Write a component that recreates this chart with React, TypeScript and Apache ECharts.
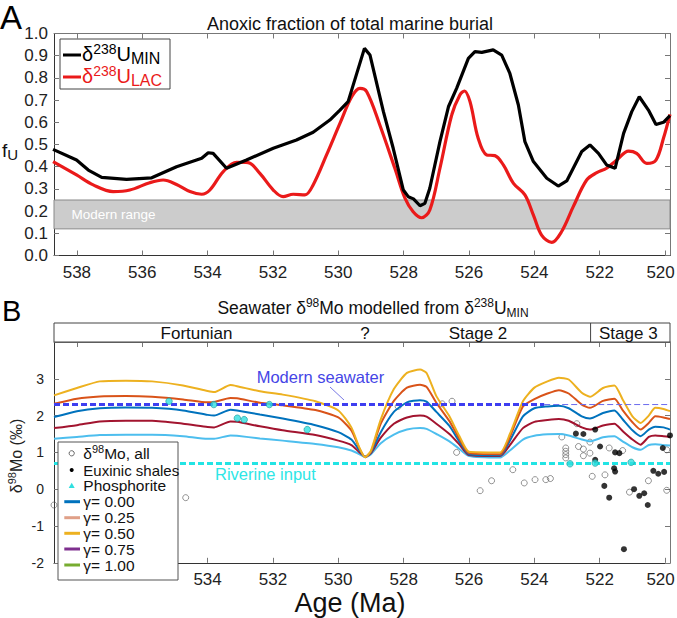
import React, { useEffect, useRef } from 'react';
import * as echarts from 'echarts';

const FONT = '"Liberation Sans", Arial, Helvetica, sans-serif';

const AGE_MIN = 519.85;
const AGE_MAX = 538.7;
const AGE_TICKS = [520, 522, 524, 526, 528, 530, 532, 534, 536, 538];
// in panel B the legend box hides the two oldest tick labels
const AGE_LABELS_B = [520, 522, 524, 526, 528, 530, 532, 534];

// Panel A: anoxic fraction f_U
const fU_MIN: [number, number][] = [
  [538.73, 0.478], [538.01, 0.43], [537.65, 0.385], [537.24, 0.352], [536.48, 0.343], [535.71, 0.35],
  [534.95, 0.40], [534.18, 0.438], [533.98, 0.463], [533.83, 0.46], [533.42, 0.393], [532.81, 0.43],
  [531.99, 0.483], [531.28, 0.52], [530.77, 0.555], [530.26, 0.61], [529.95, 0.655], [529.70, 0.693],
  [529.2, 0.933], [529.03, 0.903], [528.62, 0.648], [528.32, 0.483], [528.01, 0.295], [527.86, 0.265],
  [527.7, 0.255], [527.5, 0.224], [527.35, 0.235], [527.2, 0.303], [526.89, 0.513], [526.63, 0.67],
  [526.38, 0.753], [526.02, 0.888], [525.82, 0.918], [525.61, 0.915], [525.26, 0.926], [525.0, 0.903],
  [524.75, 0.82], [524.49, 0.678], [524.29, 0.513], [524.03, 0.423], [523.62, 0.348], [523.27, 0.313],
  [523.01, 0.336], [522.55, 0.468], [522.3, 0.498], [522.04, 0.46], [521.79, 0.408], [521.53, 0.393],
  [521.27, 0.55], [521.02, 0.648], [520.79, 0.715], [520.51, 0.655], [520.28, 0.59], [520.05, 0.60],
  [519.85, 0.63],
];
const fU_LAC: [number, number][] = [
  [538.73, 0.423], [538.01, 0.363], [537.5, 0.318], [536.89, 0.288], [536.38, 0.295], [535.77, 0.328],
  [535.36, 0.34], [534.95, 0.32], [534.54, 0.288], [534.18, 0.276], [533.93, 0.295], [533.52, 0.378],
  [533.11, 0.42], [532.76, 0.418], [532.4, 0.37], [531.99, 0.295], [531.69, 0.265], [531.38, 0.276],
  [531.02, 0.273], [530.77, 0.318], [530.36, 0.453], [529.95, 0.595], [529.59, 0.715], [529.34, 0.753],
  [529.13, 0.738], [528.73, 0.588], [528.27, 0.393], [527.96, 0.258], [527.71, 0.197], [527.45, 0.17],
  [527.2, 0.205], [526.89, 0.393], [526.53, 0.633], [526.28, 0.723], [526.14, 0.741], [525.97, 0.693],
  [525.72, 0.528], [525.46, 0.453], [525.21, 0.45], [524.95, 0.408], [524.64, 0.325], [524.29, 0.273],
  [524.03, 0.182], [523.78, 0.092], [523.47, 0.059], [523.17, 0.107], [522.81, 0.22], [522.4, 0.34],
  [522.09, 0.373], [521.79, 0.393], [521.48, 0.43], [521.12, 0.47], [520.87, 0.46], [520.56, 0.415],
  [520.28, 0.43], [520.05, 0.528], [519.85, 0.636],
];
const MODERN_RANGE = [0.12, 0.25];

// Panel B: modelled seawater d98Mo
const MO_AGES = [
  538.7, 538.0, 537.3, 536.5, 535.7, 534.75, 534.0, 533.8, 533.3, 533.1, 532.4, 531.7, 530.7, 530.0,
  529.6, 529.35, 529.18, 529.0, 528.7, 528.3, 527.9, 527.5, 527.3, 527.0, 526.6, 526.3, 526.0, 525.05,
  524.75, 524.35, 524.0, 523.6, 523.25, 522.95, 522.55, 522.3, 521.9, 521.55, 521.3, 521.0, 520.75,
  520.5, 520.3, 520.05, 519.85,
];
const MO_CURVE_1 = [
  2.55, 2.75, 2.93, 2.95, 2.93, 2.82, 2.67, 2.64, 2.83, 2.80, 2.66, 2.57, 2.39, 2.14,
  1.68, 1.12, 0.87, 1.05, 1.9, 2.72, 3.16, 3.25, 3.16, 2.53, 1.98, 1.45, 1.02, 1.0,
  1.5, 2.39, 2.76, 2.93, 3.03, 2.98, 2.62, 2.51, 2.75, 2.82, 2.44, 1.98, 1.8,
  2.0, 2.21, 2.18, 2.12,
];
const MO_CURVE_2 = [
  2.32, 2.46, 2.52, 2.53, 2.51, 2.44, 2.36, 2.37, 2.48, 2.47, 2.35, 2.28, 2.15, 1.95,
  1.6, 1.1, 0.87, 1.02, 1.78, 2.4, 2.76, 2.84, 2.78, 2.35, 1.85, 1.38, 0.98, 0.95,
  1.42, 2.25, 2.45, 2.6, 2.69, 2.6, 2.3, 2.21, 2.4, 2.46, 2.15, 1.82, 1.62,
  1.8, 1.98, 1.95, 1.91,
];
const MO_CURVE_3 = [
  1.96, 2.12, 2.2, 2.22, 2.21, 2.14, 2.02, 2.0, 2.16, 2.14, 2.03, 1.92, 1.74, 1.55,
  1.35, 1.05, 0.88, 1.0, 1.55, 2.1, 2.36, 2.42, 2.38, 2.1, 1.72, 1.3, 0.95, 0.92,
  1.32, 1.98, 2.2, 2.25, 2.27, 2.2, 1.98, 1.92, 2.07, 2.14, 1.9, 1.6, 1.44,
  1.62, 1.7, 1.68, 1.62,
];
const MO_CURVE_4 = [
  1.66, 1.74, 1.84, 1.86, 1.86, 1.78, 1.69, 1.68, 1.84, 1.83, 1.71, 1.6, 1.47, 1.32,
  1.2, 1.0, 0.88, 0.98, 1.4, 1.78, 1.95, 2.0, 1.97, 1.78, 1.5, 1.22, 0.93, 0.9,
  1.2, 1.66, 1.83, 1.88, 1.91, 1.86, 1.68, 1.62, 1.73, 1.78, 1.58, 1.35, 1.21,
  1.42, 1.46, 1.44, 1.42,
];
const MO_CURVE_5 = [
  1.37, 1.42, 1.47, 1.48, 1.48, 1.44, 1.37, 1.37, 1.46, 1.45, 1.38, 1.32, 1.23, 1.14,
  1.05, 0.95, 0.87, 0.95, 1.25, 1.48, 1.62, 1.66, 1.64, 1.5, 1.3, 1.1, 0.9, 0.86,
  1.05, 1.35, 1.45, 1.49, 1.5, 1.46, 1.35, 1.3, 1.41, 1.44, 1.3, 1.14, 1.07,
  1.2, 1.22, 1.2, 1.19,
];
const MO_SEAWATER = 2.3;
const SEAWATER_THICK_END = 523.7;
const MO_RIVERINE = 0.7;

const MO_ALL: [number, number][] = [
  [538.7, -0.43], [534.67, -0.23], [528.17, 2.25], [526.82, 2.32], [526.52, 2.39], [526.38, 1.0],
  [525.66, -0.04], [525.31, 0.23], [524.66, 0.53], [524.31, 0.17], [523.98, 0.26], [523.65, 0.26],
  [523.51, 0.29], [523.16, 1.42], [523.04, 1.12], [523.04, 1.03], [523.04, 0.94], [523.04, 0.85],
  [522.7, 1.78], [522.65, 1.16], [522.5, 1.09], [522.5, 0.91], [522.3, 1.28], [522.3, 0.98],
  [522.23, 0.35], [521.84, 0.39], [521.71, 1.12], [521.3, 1.05], [521.09, -0.08], [520.51, 0.23],
  [519.95, -0.03], [519.95, 1.07],
];
const MO_EUXINIC: [number, number][] = [
  [522.73, 1.51], [522.5, 1.5], [522.14, 1.62], [521.99, 1.16], [522.14, 0.8], [521.53, 1.0],
  [521.4, 0.98], [521.56, 0.57], [521.53, 0.48], [521.86, 0.09], [521.71, -0.23], [520.95, 0.0],
  [520.79, -0.18], [520.64, -0.11], [520.53, -0.43], [520.36, 0.5], [520.21, 0.42], [520.03, 0.47],
  [520.07, 1.12], [519.85, 1.46], [521.26, -1.63],
];
const MO_PHOS: [number, number][] = [
  [535.18, 2.39], [533.81, 2.3], [533.09, 1.93], [532.88, 1.89], [532.11, 2.3], [530.95, 1.62],
  [522.91, 0.69], [522.14, 0.71], [521.04, 0.73],
];
const STAGE3_START = 522.28;

const CURVE_COLORS = ['#EDB120', '#D95319', '#0072BD', '#A2142F', '#4DBEEE'];
const LEGEND_GAMMA = ['γ= 0.00', 'γ= 0.25', 'γ= 0.50', 'γ= 0.75', 'γ= 1.00'];
const LEGEND_GAMMA_COLORS = ['#0072BD', '#E0A088', '#EDB120', '#7E2F8E', '#77AC30'];

const pair = (vals: number[]) => MO_AGES.map((a, i) => [a, vals[i]]);

const ageLabelFmt = (v: number) => (Math.abs(v - 520) < 1e-6 ? '{r|' + v + '}' : String(v));

function xAxisDef(gridIndex: number, position: 'top' | 'bottom', labelValues: number[] | null) {
  const labels = !!labelValues;
  return {
    type: 'value',
    gridIndex,
    position,
    min: AGE_MIN,
    max: AGE_MAX,
    inverse: true,
    axisLine: { show: true, onZero: false, lineStyle: { color: labels ? '#333' : '#777', width: 1 } },
    axisTick: { show: true, inside: true, length: 5, customValues: AGE_TICKS, lineStyle: { color: '#777' } },
    axisLabel: {
      show: labels,
      customValues: labelValues || AGE_TICKS,
      fontSize: 17,
      fontFamily: FONT,
      color: '#222',
      margin: 8,
      formatter: ageLabelFmt,
      rich: { r: { fontSize: 17, fontFamily: FONT, color: '#222', padding: [0, 9, 0, 0] } },
    },
    splitLine: { show: false },
  };
}

function yAxisDef(gridIndex: number, position: 'left' | 'right', min: number, max: number, interval: number, labels: boolean, fmt?: (v: number) => string, fontSize = 17, margin = 6) {
  return {
    type: 'value',
    gridIndex,
    position,
    min,
    max,
    interval,
    axisLine: { show: true, onZero: false, lineStyle: { color: labels ? '#333' : '#777', width: 1 } },
    axisTick: { show: true, inside: true, length: 5, lineStyle: { color: '#777' } },
    axisLabel: { show: labels, fontSize, fontFamily: FONT, color: '#222', margin, formatter: fmt },
    splitLine: { show: false },
  };
}

export default function App() {
  const ref = useRef<HTMLDivElement>(null);
  useEffect(() => {
    if (!ref.current) return;
    const chart = echarts.init(ref.current, undefined, { renderer: 'svg' });

    const curveSeries = [MO_CURVE_5, MO_CURVE_4, MO_CURVE_3, MO_CURVE_2, MO_CURVE_1].map((vals, k) => ({
      type: 'line',
      xAxisIndex: 2,
      yAxisIndex: 2,
      data: pair(vals),
      symbol: 'none',
      smooth: 0.2,
      z: 3,
      lineStyle: { color: CURVE_COLORS[4 - k], width: 2 },
    }));

    const option: any = {
      animation: false,
      backgroundColor: '#fff',
      grid: [
        { left: 54, top: 33.5, width: 616, height: 222, outerBoundsMode: 'none', containLabel: false },
        { left: 54, top: 342, width: 616, height: 220.8, outerBoundsMode: 'none', containLabel: false },
      ],
      xAxis: [
        xAxisDef(0, 'bottom', AGE_TICKS),
        xAxisDef(0, 'top', null),
        xAxisDef(1, 'bottom', AGE_LABELS_B),
        xAxisDef(1, 'top', null),
      ],
      yAxis: [
        yAxisDef(0, 'left', 0, 1, 0.1, true, (v: number) => v.toFixed(1), 17, 6),
        yAxisDef(0, 'right', 0, 1, 0.1, false),
        yAxisDef(1, 'left', -2, 4, 1, true, (v: number) => (Math.abs(v - 4) < 1e-6 ? '' : String(Math.round(v))), 14, 10),
        yAxisDef(1, 'right', -2, 4, 1, false),
      ],
      series: [
        {
          type: 'line',
          xAxisIndex: 0,
          yAxisIndex: 0,
          data: [[AGE_MAX, MODERN_RANGE[0]]],
          symbol: 'none',
          lineStyle: { opacity: 0 },
          z: 1,
          markArea: {
            silent: true,
            itemStyle: { color: '#cccccc', borderColor: '#888', borderWidth: 1 },
            label: { show: true, position: 'insideLeft', distance: 18, color: '#fff', fontSize: 13.5, fontFamily: FONT },
            data: [[{ name: 'Modern range', yAxis: MODERN_RANGE[0] }, { yAxis: MODERN_RANGE[1] }]],
          },
        },
        {
          type: 'line', xAxisIndex: 0, yAxisIndex: 0, data: fU_LAC, symbol: 'none', smooth: 0.35, z: 3,
          lineStyle: { color: '#ea1a1a', width: 3.2 },
        },
        {
          type: 'line', xAxisIndex: 0, yAxisIndex: 0, data: fU_MIN, symbol: 'none', smooth: false, z: 4,
          lineStyle: { color: '#000', width: 3.2 },
        },
        {
          type: 'scatter', xAxisIndex: 2, yAxisIndex: 2, data: MO_ALL, symbol: 'circle', symbolSize: 6, z: 2,
          itemStyle: { color: 'rgba(255,255,255,0)', borderColor: '#555', borderWidth: 0.8 },
        },
        ...curveSeries,
        {
          type: 'line', xAxisIndex: 2, yAxisIndex: 2, data: [[AGE_MAX, MO_RIVERINE], [AGE_MIN, MO_RIVERINE]],
          symbol: 'none', z: 4, lineStyle: { color: '#22e4e4', width: 3, type: [6, 3] },
        },
        {
          type: 'line', xAxisIndex: 2, yAxisIndex: 2, data: [[AGE_MAX, MO_SEAWATER], [SEAWATER_THICK_END, MO_SEAWATER]],
          symbol: 'none', z: 4, lineStyle: { color: '#3e3ef0', width: 3, type: [6, 3] },
        },
        {
          type: 'line', xAxisIndex: 2, yAxisIndex: 2, data: [[SEAWATER_THICK_END, MO_SEAWATER], [AGE_MIN, MO_SEAWATER]],
          symbol: 'none', z: 4, lineStyle: { color: '#6a6aee', width: 1, type: [6, 3] },
        },
        {
          type: 'scatter', xAxisIndex: 2, yAxisIndex: 2, data: MO_EUXINIC, symbol: 'circle', symbolSize: 6, z: 5,
          itemStyle: { color: '#000' },
        },
        {
          type: 'scatter', xAxisIndex: 2, yAxisIndex: 2, data: MO_PHOS, symbol: 'circle', symbolSize: 6.5, z: 5,
          itemStyle: { color: '#2fe0e0', borderColor: '#199999', borderWidth: 0.8 },
        },
      ],
    };
    chart.setOption(option);

    const stageX = chart.convertToPixel({ xAxisIndex: 2 } as any, STAGE3_START) as unknown as number;

    const txt = (x: number, y: number, text: string, size: number, fill = '#111', align = 'center', extra: any = {}) => ({
      type: 'text', x, y, z: 100,
      style: { text, fontSize: size, fontFamily: FONT, fill, textAlign: align, textVerticalAlign: 'middle', align, verticalAlign: 'middle', ...extra },
    });

    const richBase = (size: number, lh: number, fill: string) => ({ fontSize: size, fontFamily: FONT, fill, lineHeight: lh, verticalAlign: 'middle' });
    const richSup = (size: number, fill: string) => ({ fontSize: size, fontFamily: FONT, fill, lineHeight: size, verticalAlign: 'top' });
    const richSub = (size: number, fill: string) => ({ fontSize: size, fontFamily: FONT, fill, lineHeight: size, verticalAlign: 'bottom' });

    const legendA = [
      { type: 'rect', z: 100, shape: { x: 60, y: 39, width: 110, height: 50 }, style: { fill: '#fff', stroke: '#444', lineWidth: 1 } },
      { type: 'line', z: 101, shape: { x1: 63, y1: 55, x2: 81, y2: 55 }, style: { stroke: '#000', lineWidth: 3 } },
      { type: 'line', z: 101, shape: { x1: 63, y1: 77, x2: 81, y2: 77 }, style: { stroke: '#ea1a1a', lineWidth: 3 } },
      {
        type: 'text', x: 82, y: 42, z: 101,
        style: {
          text: '{b|δ}{p|238}{b|U}{s|MIN}', textVerticalAlign: 'top', verticalAlign: 'top',
          rich: { b: richBase(20, 24, '#000'), p: richSup(14, '#000'), s: richSub(16, '#000') },
        },
      },
      {
        type: 'text', x: 82, y: 64, z: 101,
        style: {
          text: '{b|δ}{p|238}{b|U}{s|LAC}', textVerticalAlign: 'top', verticalAlign: 'top',
          rich: { b: richBase(20, 24, '#ea1a1a'), p: richSup(14, '#ea1a1a'), s: richSub(16, '#ea1a1a') },
        },
      },
    ];

    const rowsY = [453.3, 470, 485.7, 501.7, 517.7, 533.3, 549, 565];
    const legendB: any[] = [
      { type: 'rect', z: 100, shape: { x: 58, y: 442, width: 120, height: 138 }, style: { fill: '#fff', stroke: '#555', lineWidth: 1 } },
      { type: 'circle', z: 101, shape: { cx: 71.7, cy: rowsY[0], r: 2.6 }, style: { fill: '#fff', stroke: '#444', lineWidth: 0.8 } },
      { type: 'circle', z: 101, shape: { cx: 71.7, cy: rowsY[1], r: 2 }, style: { fill: '#000' } },
      { type: 'polygon', z: 101, shape: { points: [[71.7, rowsY[2] - 3], [68.7, rowsY[2] + 2.2], [74.7, rowsY[2] + 2.2]] }, style: { fill: '#2fe0e0' } },
      {
        type: 'text', x: 83.3, y: rowsY[0], z: 101,
        style: {
          text: '{b|δ}{p|98}{b|Mo, all}', textVerticalAlign: 'middle', verticalAlign: 'middle',
          rich: { b: richBase(15.5, 20, '#111'), p: richSup(11, '#111') },
        },
      },
      txt(83.3, rowsY[1], 'Euxinic shales', 15, '#111', 'left'),
      txt(83.3, rowsY[2], 'Phosphorite', 15.5, '#111', 'left'),
    ];
    LEGEND_GAMMA.forEach((label, i) => {
      const y = rowsY[3 + i];
      legendB.push({ type: 'line', z: 101, shape: { x1: 64.3, y1: y, x2: 80, y2: y }, style: { stroke: LEGEND_GAMMA_COLORS[i], lineWidth: 3 } });
      legendB.push(txt(83.3, y, label, 15.5, '#111', 'left'));
    });

    const graphics: any[] = [
      txt(0, 17, 'A', 33, '#000', 'left'),
      txt(2, 311, 'B', 29, '#000', 'left'),
      txt(350, 24, 'Anoxic fraction of total marine burial', 18),
      {
        type: 'text', x: 373, y: 308, z: 100,
        style: {
          text: '{b|Seawater δ}{p|98}{b|Mo modelled from δ}{p|238}{b|U}{s|MIN}', textAlign: 'center', align: 'center',
          textVerticalAlign: 'middle', verticalAlign: 'middle',
          rich: { b: richBase(17.5, 22, '#111'), p: richSup(12, '#111'), s: richSub(12, '#111') },
        },
      },
      {
        type: 'text', x: 2, y: 150, z: 100,
        style: {
          text: '{b|f}{s|U}', textVerticalAlign: 'middle', verticalAlign: 'middle',
          rich: { b: richBase(19, 24, '#111'), s: richSub(15, '#111') },
        },
      },
      {
        type: 'text', x: 16, y: 456, z: 100, rotation: Math.PI / 2,
        style: {
          text: '{b|δ}{p|98}{b|Mo (‰)}', textAlign: 'center', align: 'center', textVerticalAlign: 'middle', verticalAlign: 'middle',
          rich: { b: richBase(16, 20, '#222'), p: richSup(11, '#222') },
        },
      },
      txt(350, 603, 'Age (Ma)', 27, '#111'),
      // stage box
      { type: 'rect', z: 90, shape: { x: 54, y: 323, width: 616, height: 19 }, style: { fill: '#fff', stroke: '#444', lineWidth: 1 } },
      { type: 'line', z: 91, shape: { x1: stageX, y1: 323, x2: stageX, y2: 342 }, style: { stroke: '#444', lineWidth: 1 } },
      txt(196.5, 333, 'Fortunian', 17),
      txt(365, 333, '?', 17),
      txt(478, 333, 'Stage 2', 17),
      txt((stageX + 670) / 2 - 2, 333, 'Stage 3', 17),
      // annotations
      txt(256.7, 377, 'Modern seawater', 16.5, '#4545e6', 'left'),
      { type: 'line', z: 100, shape: { x1: 330, y1: 387, x2: 344, y2: 400 }, style: { stroke: '#5555dd', lineWidth: 0.8 } },
      txt(215, 474, 'Riverine input', 16.5, '#2ee6e6', 'left'),
      ...legendA,
      ...legendB,
    ];
    chart.setOption({ graphic: graphics });

    return () => chart.dispose();
  }, []);

  return <div ref={ref} style={{ position: 'fixed', left: 0, top: 0, width: 677, height: 618, background: '#fff' }} />;
}
